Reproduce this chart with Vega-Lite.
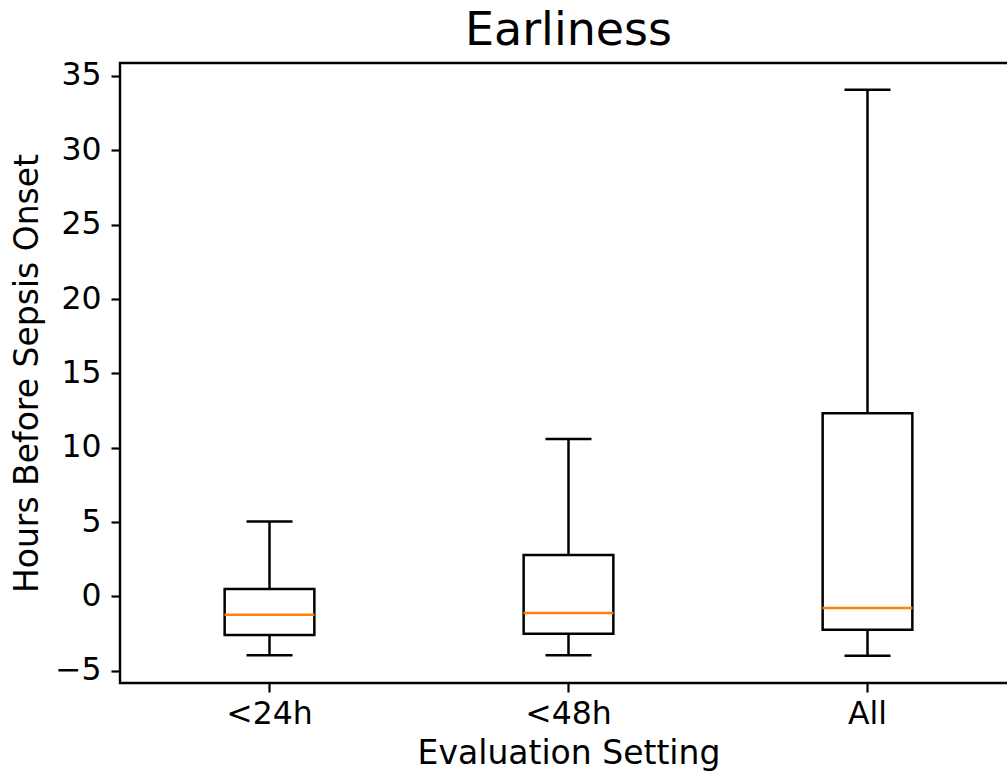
{
  "$schema": "https://vega.github.io/schema/vega-lite/v6.json",
  "autosize": {"type": "none"},
  "padding": {"left": 120, "top": 63, "right": 0, "bottom": 90},
  "width": 897,
  "height": 620,
  "background": "white",
  "title": {"text": "Earliness", "font": "DejaVu Sans", "fontSize": 46, "fontWeight": "normal", "color": "black", "anchor": "middle", "frame": "group", "offset": 5},
  "config": {
    "view": {"stroke": "black", "strokeWidth": 2.4},
    "axis": {"labelFont": "DejaVu Sans", "titleFont": "DejaVu Sans", "labelFontSize": 31.5, "titleFontSize": 33, "titleFontWeight": "normal", "labelColor": "black", "titleColor": "black", "tickColor": "black", "tickSize": 9, "tickWidth": 2.2, "domain": false, "grid": false}
  },
  "data": {"values": [
    {"setting": "<24h", "lower": -3.96, "q1": -2.59, "median": -1.23, "q3": 0.5, "upper": 5.04},
    {"setting": "<48h", "lower": -3.96, "q1": -2.51, "median": -1.12, "q3": 2.78, "upper": 10.58},
    {"setting": "All", "lower": -3.98, "q1": -2.24, "median": -0.78, "q3": 12.32, "upper": 34.07}
  ]},
  "encoding": {
    "x": {"field": "setting", "type": "nominal", "sort": null,
      "scale": {"type": "band", "paddingInner": 0.7, "paddingOuter": 0.35},
      "axis": {"title": "Evaluation Setting", "labelAngle": 0, "labelPadding": 6, "titlePadding": 8}}
  },
  "layer": [
    {"mark": {"type": "rule", "color": "black", "strokeWidth": 2.5},
     "encoding": {"y": {"field": "lower", "type": "quantitative", "scale": {"domain": [-5.82, 35.87], "nice": false, "zero": false},
        "axis": {"title": "Hours Before Sepsis Onset", "values": [-5, 0, 5, 10, 15, 20, 25, 30, 35], "labelPadding": 10, "titlePadding": 10}},
       "y2": {"field": "q1"}}},
    {"mark": {"type": "rule", "color": "black", "strokeWidth": 2.5},
     "encoding": {"y": {"field": "q3", "type": "quantitative"}, "y2": {"field": "upper"}}},
    {"mark": {"type": "tick", "color": "black", "opacity": 1, "size": 46, "thickness": 2.5, "orient": "horizontal"},
     "encoding": {"y": {"field": "lower", "type": "quantitative"}}},
    {"mark": {"type": "tick", "color": "black", "opacity": 1, "size": 46, "thickness": 2.5, "orient": "horizontal"},
     "encoding": {"y": {"field": "upper", "type": "quantitative"}}},
    {"mark": {"type": "bar", "fill": "white", "stroke": "black", "strokeWidth": 2.5},
     "encoding": {"y": {"field": "q1", "type": "quantitative"}, "y2": {"field": "q3"}}},
    {"mark": {"type": "tick", "color": "#ff7f0e", "opacity": 1, "size": 90, "thickness": 2.5, "orient": "horizontal"},
     "encoding": {"y": {"field": "median", "type": "quantitative"}}}
  ]
}
